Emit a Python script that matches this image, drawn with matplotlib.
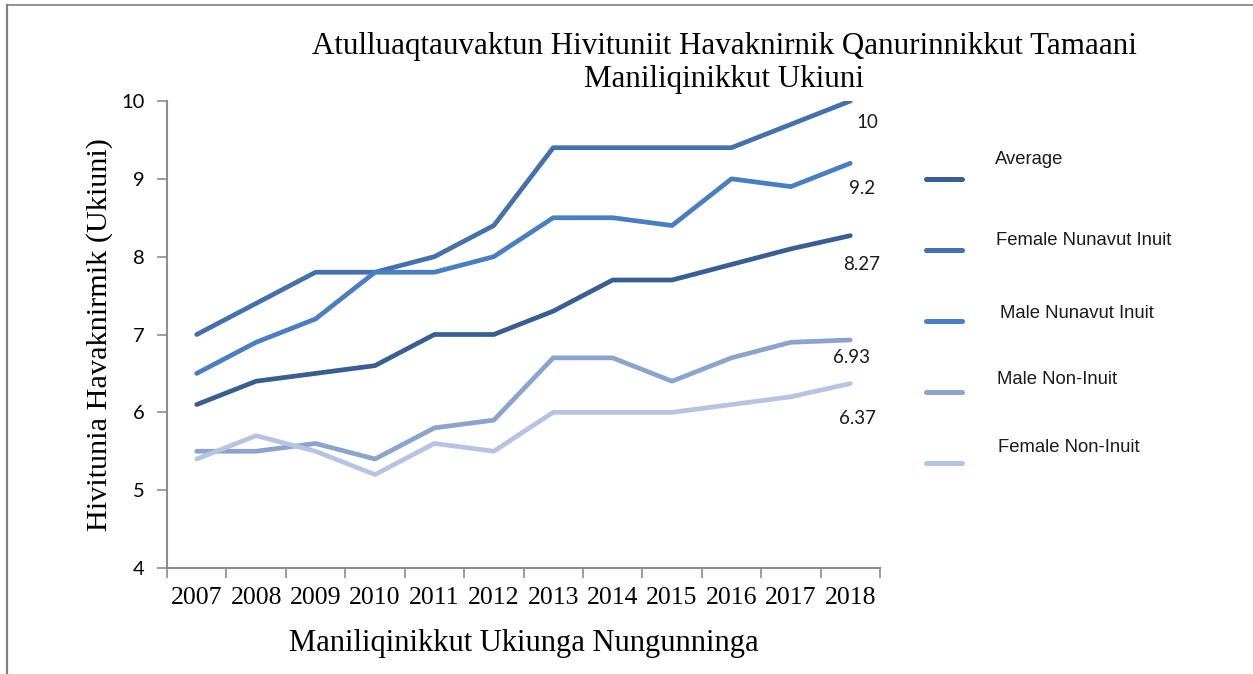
import matplotlib.pyplot as plt
from matplotlib.lines import Line2D

years = ['2007', '2008', '2009', '2010', '2011', '2012',
         '2013', '2014', '2015', '2016', '2017', '2018']
series_names = ['Average', 'Female Nunavut Inuit', 'Male Nunavut Inuit',
                'Male Non-Inuit', 'Female Non-Inuit']
average = [6.1, 6.4, 6.5, 6.6, 7.0, 7.0, 7.3, 7.7, 7.7, 7.9, 8.1, 8.27]
female_inuit = [7.0, 7.4, 7.8, 7.8, 8.0, 8.4, 9.4, 9.4, 9.4, 9.4, 9.7, 10.0]
male_inuit = [6.5, 6.9, 7.2, 7.8, 7.8, 8.0, 8.5, 8.5, 8.4, 9.0, 8.9, 9.2]
male_non_inuit = [5.5, 5.5, 5.6, 5.4, 5.8, 5.9, 6.7, 6.7, 6.4, 6.7, 6.9, 6.93]
female_non_inuit = [5.4, 5.7, 5.5, 5.2, 5.6, 5.5, 6.0, 6.0, 6.0, 6.1, 6.2, 6.37]
end_labels = ['8.27', '10', '9.2', '6.93', '6.37']

colors = ['#3b5e91', '#4570aa', '#4a7ebe', '#8ca4cc', '#b7c4df']
label_offsets = [(11, -29), (17, -22), (12, -25), (1, -18), (7, -35)]

serif = 'Liberation Serif'
sans = 'Lato'
axis_grey = '#8c8c8c'

fig = plt.figure(figsize=(12.53, 6.74), dpi=100)
ax = fig.add_axes([167 / 1253, 1 - 568 / 674, (880 - 167) / 1253, (568 - 101) / 674])

all_series = [average, female_inuit, male_inuit, male_non_inuit, female_non_inuit]
x = list(range(len(years)))
for vals, c, lab, off in zip(all_series, colors, end_labels, label_offsets):
    ax.plot(x, vals, color=c, lw=3.4, solid_capstyle='round', solid_joinstyle='round')
    ax.annotate(lab, (x[-1], vals[-1]), xytext=off, textcoords='offset pixels',
                ha='center', va='center', fontsize=13.5, family=sans, color='#1a1a1a')

ax.set_xlim(-0.5, 11.5)
ax.set_ylim(4, 10)
ax.set_yticks([4, 5, 6, 7, 8, 9, 10])
ax.set_xticks([i - 0.5 for i in range(13)])
ax.set_xticklabels([])
ax.set_xticks(x, minor=True)
ax.set_xticklabels(years, minor=True, family=serif, fontsize=18.5)
ax.tick_params(axis='x', which='major', length=7, color=axis_grey, width=1.2)
ax.tick_params(axis='x', which='minor', length=0, pad=14)
ax.tick_params(axis='y', length=7, color=axis_grey, width=1.2, pad=9, labelsize=14.5)
for t in ax.get_yticklabels():
    t.set_family(sans)

for side in ['top', 'right']:
    ax.spines[side].set_visible(False)
for side in ['left', 'bottom']:
    ax.spines[side].set_color(axis_grey)
    ax.spines[side].set_linewidth(1.5)

ax.set_xlabel('Maniliqinikkut Ukiunga Nungunninga', family=serif, fontsize=22, labelpad=14)
ax.set_ylabel('Hivitunia Havaknirmik (Ukiuni)', family=serif, fontsize=21.8, labelpad=6)

fig.text(724 / 1253, 1 - 63 / 674,
         'Atulluaqtauvaktun Hivituniit Havaknirnik Qanurinnikkut Tamaani\nManiliqinikkut Ukiuni',
         ha='center', va='center', family=serif, fontsize=22.3, linespacing=1.2)

# legend drawn by hand: text sits above each line sample
handle_y = [179, 250, 321, 392, 463]
text_pos = [(995, 160), (996, 240), (1000, 314), (997, 380), (998, 448)]
for name, c, hy, (tx, ty) in zip(series_names, colors, handle_y, text_pos):
    fig.add_artist(Line2D([926 / 1253, 962 / 1253], [1 - hy / 674, 1 - hy / 674],
                          color=c, lw=3.6, solid_capstyle='round'))
    fig.text(tx / 1253, 1 - ty / 674, name, ha='left', va='center',
             family='Liberation Sans', fontsize=13.3, color='#1a1a1a')

# outer frame: top and left edges only
fig.add_artist(Line2D([7 / 1253, 1], [1 - 5 / 674, 1 - 5 / 674], color='#7f7f7f', lw=1.2))
fig.add_artist(Line2D([7 / 1253, 7 / 1253], [0, 1 - 5 / 674], color='#7f7f7f', lw=1.6))

fig.savefig('out.png', dpi=100)
